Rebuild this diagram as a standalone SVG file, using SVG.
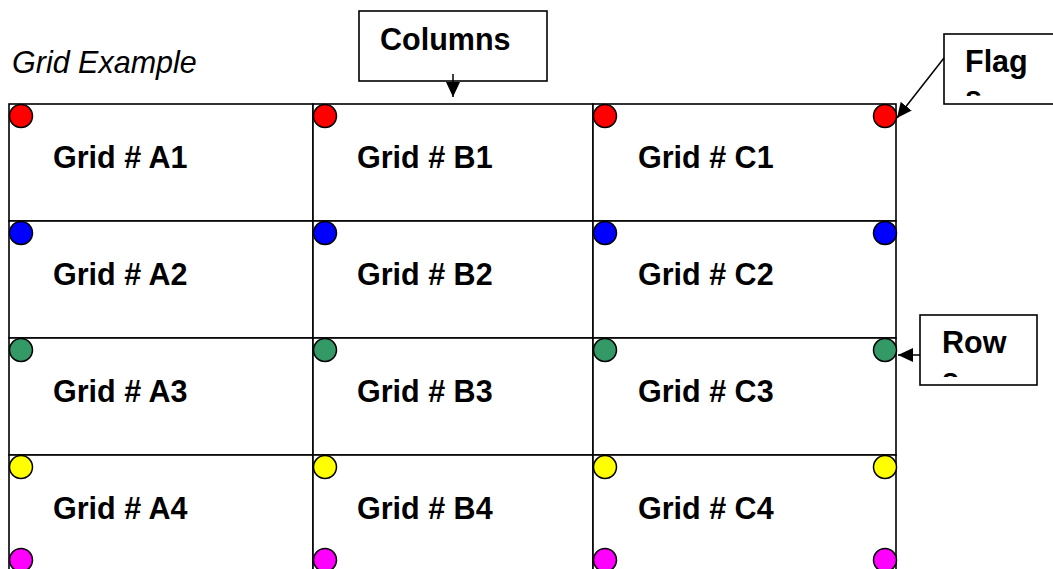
<svg xmlns="http://www.w3.org/2000/svg" width="1053" height="569" viewBox="0 0 1053 569">
<style>
.cell{fill:#fff;stroke:#000;stroke-width:1.6}
.lbl{font-family:"Liberation Sans",Arial,sans-serif;font-weight:bold;font-size:30.5px;fill:#000}
.dot{stroke:#000;stroke-width:1.5}
.r{fill:#FF0000}.b{fill:#0000FF}.g{fill:#339966}.y{fill:#FFFF00}.m{fill:#FF00FF}
.box{fill:#fff;stroke:#000;stroke-width:1.6}
.conn{stroke:#000;stroke-width:1.5;fill:none;marker-end:url(#ah)}
</style>
<defs>
<marker id="ah" markerUnits="userSpaceOnUse" markerWidth="15" markerHeight="14" refX="15" refY="7" orient="auto">
<path d="M0,0 L15,7 L0,14 z" fill="#000"/>
</marker>
<clipPath id="clipFlag"><rect x="944" y="34" width="120" height="62"/></clipPath>
<clipPath id="clipRow"><rect x="920" y="315" width="117" height="62"/></clipPath>
</defs>
<rect width="1053" height="569" fill="#fff"/>
<text x="12" y="73" font-family="'Liberation Sans',Arial,sans-serif" font-style="italic" font-size="30.5" fill="#000">Grid Example</text>

<g id="A1"><rect class="cell" x="9" y="104" width="304" height="117"/><text class="lbl" x="53" y="168">Grid # A1</text><circle class="dot r" cx="21" cy="116" r="11.5"/></g>
<g id="B1"><rect class="cell" x="313" y="104" width="280" height="117"/><text class="lbl" x="357" y="168">Grid # B1</text><circle class="dot r" cx="325" cy="116" r="11.5"/></g>
<g id="C1"><rect class="cell" x="593" y="104" width="303" height="117"/><text class="lbl" x="638" y="168">Grid # C1</text><circle class="dot r" cx="605" cy="116" r="11.5"/><circle class="dot r" cx="885" cy="116" r="11.5"/></g>

<g id="A2"><rect class="cell" x="9" y="221" width="304" height="117"/><text class="lbl" x="53" y="285">Grid # A2</text><circle class="dot b" cx="21" cy="233" r="11.5"/></g>
<g id="B2"><rect class="cell" x="313" y="221" width="280" height="117"/><text class="lbl" x="357" y="285">Grid # B2</text><circle class="dot b" cx="325" cy="233" r="11.5"/></g>
<g id="C2"><rect class="cell" x="593" y="221" width="303" height="117"/><text class="lbl" x="638" y="285">Grid # C2</text><circle class="dot b" cx="605" cy="233" r="11.5"/><circle class="dot b" cx="885" cy="233" r="11.5"/></g>

<g id="A3"><rect class="cell" x="9" y="338" width="304" height="117"/><text class="lbl" x="53" y="402">Grid # A3</text><circle class="dot g" cx="21" cy="350" r="11.5"/></g>
<g id="B3"><rect class="cell" x="313" y="338" width="280" height="117"/><text class="lbl" x="357" y="402">Grid # B3</text><circle class="dot g" cx="325" cy="350" r="11.5"/></g>
<g id="C3"><rect class="cell" x="593" y="338" width="303" height="117"/><text class="lbl" x="638" y="402">Grid # C3</text><circle class="dot g" cx="605" cy="350" r="11.5"/><circle class="dot g" cx="885" cy="350" r="11.5"/></g>

<g id="A4"><rect class="cell" x="9" y="455" width="304" height="117"/><text class="lbl" x="53" y="519">Grid # A4</text><circle class="dot y" cx="21" cy="467" r="11.5"/><circle class="dot m" cx="21" cy="560" r="11.5"/></g>
<g id="B4"><rect class="cell" x="313" y="455" width="280" height="117"/><text class="lbl" x="357" y="519">Grid # B4</text><circle class="dot y" cx="325" cy="467" r="11.5"/><circle class="dot m" cx="325" cy="560" r="11.5"/></g>
<g id="C4"><rect class="cell" x="593" y="455" width="303" height="117"/><text class="lbl" x="638" y="519">Grid # C4</text><circle class="dot y" cx="605" cy="467" r="11.5"/><circle class="dot y" cx="885" cy="467" r="11.5"/><circle class="dot m" cx="605" cy="560" r="11.5"/><circle class="dot m" cx="885" cy="560" r="11.5"/></g>

<g id="columns"><rect class="box" x="359" y="11" width="188" height="70"/><text class="lbl" x="380" y="50">Columns</text></g>
<g id="flags"><rect class="box" x="944" y="34" width="120" height="70"/><g clip-path="url(#clipFlag)"><text class="lbl" x="965" y="72">Flag</text><text class="lbl" x="965" y="108">s</text></g></g>
<g id="rows"><rect class="box" x="920" y="315" width="117" height="70"/><g clip-path="url(#clipRow)"><text class="lbl" x="942" y="353">Row</text><text class="lbl" x="942" y="390">s</text></g></g>

<g id="connectors">
<line class="conn" x1="453" y1="74" x2="453" y2="97"/>
<line class="conn" x1="944" y1="58" x2="897" y2="118"/>
<line class="conn" x1="920" y1="355" x2="898" y2="355"/>
</g>
</svg>
